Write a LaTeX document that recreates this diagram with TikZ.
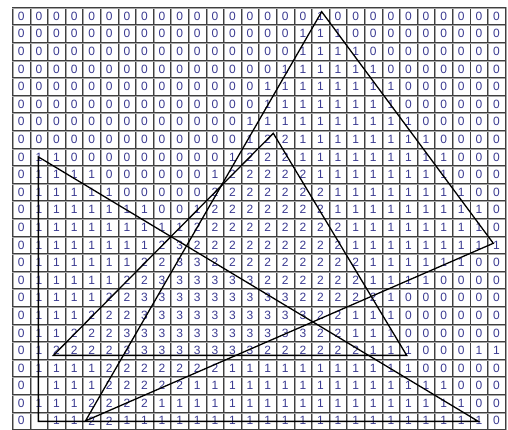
\documentclass[tikz,border=0pt]{standalone}
\usepackage{fontspec}
\setmainfont{Liberation Sans}
\usetikzlibrary{positioning}
\definecolor{digitblue}{RGB}{58,58,145}

\begin{document}
\begin{tikzpicture}[
  x=17.6pt, y=-17.6pt,
  num/.style={inner sep=0pt, font=\fontsize{12}{12}\selectfont, text=digitblue},
  gridline/.style={draw=black!75, line width=0.85pt},
  gridshade/.style={draw=black!35, line width=0.9pt},
  edge/.style={draw=black, line width=1.3pt, line join=miter}
]
\useasboundingbox (-0.71,-0.415) rectangle (28.157,24.017);
\fill[white] (-0.71,-0.415) rectangle (28.157,24.017);

% cell grid
\foreach \c in {0,...,28} {
  \draw[gridshade, xshift=0.9pt] (\c,0) -- (\c,24);
  \draw[gridline] (\c,0) -- (\c,24);
}
\foreach \r in {0,...,24} {
  \draw[gridshade, yshift=-0.9pt] (0,\r) -- (28,\r);
  \draw[gridline] (0,\r) -- (28,\r);
}

% cover counts, row by row
\foreach \row [count=\r] in {
  {0,0,0,0,0,0,0,0,0,0,0,0,0,0,0,0,0,1,0,0,0,0,0,0,0,0,0,0},
  {0,0,0,0,0,0,0,0,0,0,0,0,0,0,0,0,1,1,1,0,0,0,0,0,0,0,0,0},
  {0,0,0,0,0,0,0,0,0,0,0,0,0,0,0,0,1,1,1,1,0,0,0,0,0,0,0,0},
  {0,0,0,0,0,0,0,0,0,0,0,0,0,0,0,1,1,1,1,1,1,0,0,0,0,0,0,0},
  {0,0,0,0,0,0,0,0,0,0,0,0,0,0,1,1,1,1,1,1,1,1,0,0,0,0,0,0},
  {0,0,0,0,0,0,0,0,0,0,0,0,0,0,1,1,1,1,1,1,1,1,0,0,0,0,0,0},
  {0,0,0,0,0,0,0,0,0,0,0,0,0,1,1,1,1,1,1,1,1,1,1,0,0,0,0,0},
  {0,0,0,0,0,0,0,0,0,0,0,0,0,1,2,2,1,1,1,1,1,1,1,1,0,0,0,0},
  {0,1,1,0,0,0,0,0,0,0,0,0,1,2,2,2,1,1,1,1,1,1,1,1,1,0,0,0},
  {0,1,1,1,1,0,0,0,0,0,0,1,2,2,2,2,2,1,1,1,1,1,1,1,1,0,0,0},
  {0,1,1,1,1,1,0,0,0,0,0,2,2,2,2,2,2,2,1,1,1,1,1,1,1,1,0,0},
  {0,1,1,1,1,1,1,1,0,0,1,2,2,2,2,2,2,2,1,1,1,1,1,1,1,1,1,0},
  {0,1,1,1,1,1,1,1,1,1,2,2,2,2,2,2,2,2,2,1,1,1,1,1,1,1,1,0},
  {0,1,1,1,1,1,1,1,2,3,2,2,2,2,2,2,2,2,2,1,1,1,1,1,1,1,1,1},
  {0,1,1,1,1,1,1,2,2,3,3,2,2,2,2,2,2,2,2,2,1,1,1,1,1,1,0,0},
  {0,1,1,1,1,1,2,2,3,3,3,3,3,3,2,2,2,2,2,2,1,1,1,1,0,0,0,0},
  {0,1,1,1,1,2,2,3,3,3,3,3,3,3,3,3,2,2,2,2,2,1,0,0,0,0,0,0},
  {0,1,1,1,2,2,2,3,3,3,3,3,3,3,3,3,3,2,2,1,1,1,0,0,0,0,0,0},
  {0,1,1,2,2,2,3,3,3,3,3,3,3,3,3,3,3,2,2,1,1,1,0,0,0,0,0,0},
  {0,1,2,2,2,2,3,3,3,3,3,3,3,3,2,2,2,2,2,2,1,1,1,0,0,0,1,1},
  {0,1,1,1,1,2,2,2,2,2,2,2,1,1,1,1,1,1,1,1,1,1,1,0,0,0,0,0},
  {0,{},1,1,1,2,2,2,2,2,1,1,1,1,1,1,1,1,1,1,1,1,1,1,1,0,0,0},
  {0,1,1,1,2,2,2,2,1,1,1,1,1,1,1,1,1,1,1,1,1,1,1,1,1,1,0,0},
  {0,{},1,1,2,2,1,1,1,1,1,1,1,1,1,1,1,1,1,1,1,1,1,1,1,1,1,0}} {
  \foreach \v [count=\c] in \row {
    \node[num] (cell-\r-\c) at (\c-0.5,\r-0.5) {\v};
  }
}

% the three triangles
\coordinate (lt-top) at (1.47,8.5);
\coordinate (lt-low) at (1.47,23.53);
\coordinate (lt-right) at (26.47,23.53);
\coordinate (mt-top) at (14.82,7.16);
\coordinate (mt-left) at (2.32,19.78);
\coordinate (mt-right) at (22.4,19.78);
\coordinate (bt-top) at (17.57,0.25);
\coordinate (bt-right) at (27.32,13.41);
\coordinate (bt-low) at (4.15,23.5);

\draw[edge] (lt-top) -- (lt-low) -- (lt-right) -- cycle;
\draw[edge] (mt-top) -- (mt-left) -- (mt-right) -- cycle;
\draw[edge] (bt-top) -- (bt-right) -- (bt-low) -- cycle;
\end{tikzpicture}
\end{document}
